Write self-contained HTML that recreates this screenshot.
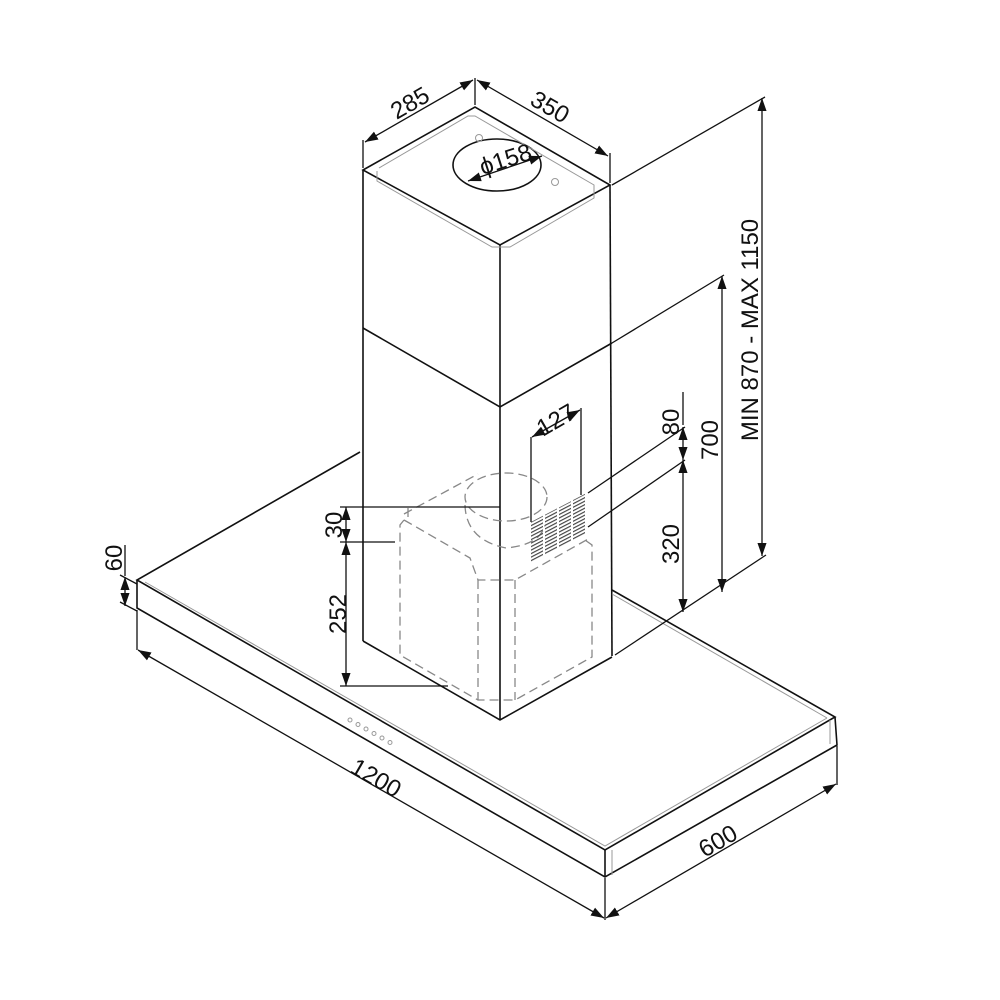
<!DOCTYPE html>
<html><head><meta charset="utf-8"><style>
html,body{margin:0;padding:0;background:#fff;}
svg{display:block;}
text{font-family:"Liberation Sans",sans-serif;fill:#111;}
</style></head><body>
<svg width="1000" height="1000" viewBox="0 0 1000 1000" xmlns="http://www.w3.org/2000/svg">
<defs>
<marker id="a" viewBox="0 0 10 10" refX="10" refY="5" markerWidth="13" markerHeight="13" markerUnits="userSpaceOnUse" orient="auto-start-reverse">
<path d="M0,1.5 L10,5 L0,8.5 z" fill="#111"/></marker>
<pattern id="h" width="4" height="3.5" patternUnits="userSpaceOnUse"><rect width="4" height="1.3" fill="#444"/></pattern>
</defs>
<g stroke="#111" stroke-width="1.6" fill="none">
<polyline points="360,452 137,580 605,850 835,717 612,590"/>
<polyline points="137,580 137,608 605,877 837,745 835,717"/>
<line x1="605" y1="850" x2="605" y2="877"/>
<polygon points="363,170 475,107 610,185 500,245"/>
<line x1="363" y1="170" x2="363" y2="641"/>
<line x1="500" y1="245" x2="500" y2="720"/>
<line x1="610" y1="185" x2="612" y2="656"/>
<polyline points="363,328 500,407 612,343"/>
<polyline points="363,641 500,720 612,657"/>
<ellipse cx="497" cy="165" rx="44" ry="26"/>
</g>
<g stroke="#999" stroke-width="1" fill="none">
<polyline points="145,582 605,846 827,718"/>
<line x1="612" y1="594" x2="827" y2="718"/>
<line x1="612" y1="850" x2="612" y2="875"/>
<line x1="830" y1="720" x2="830" y2="744"/>
<polyline points="377,171 377,181 492,247 510,247 594,198 594,185 475,116 468,116 379,168"/>
<circle cx="479" cy="138" r="3.5"/><circle cx="555" cy="182" r="3.5"/>
<circle cx="350" cy="720" r="2"/><circle cx="358" cy="724.5" r="2"/><circle cx="366" cy="729" r="2"/><circle cx="374" cy="733.5" r="2"/><circle cx="382" cy="738" r="2"/><circle cx="390" cy="742.5" r="2"/>
</g>
<g stroke="#888" stroke-width="1.3" fill="none" stroke-dasharray="9,5">
<polyline points="404,520 400,525 400,655 478,700 515,700 592,657 592,545 585,540"/>
<polyline points="404,520 470,558 478,580 515,580 590,538"/>
<line x1="478" y1="580" x2="478" y2="700"/>
<line x1="515" y1="580" x2="515" y2="700"/>
<line x1="404" y1="514" x2="478" y2="474"/>
<ellipse cx="506" cy="497" rx="41" ry="24"/>
<path d="M465,505 Q466,540 506,548 Q540,545 545,525"/>
<line x1="408" y1="508" x2="408" y2="522"/>
</g>
<!-- grill -->
<g transform="matrix(1,-0.52,0,1,0,276.12)">
<rect x="531" y="522" width="12" height="40" fill="url(#h)"/>
<rect x="545" y="522" width="12" height="40" fill="url(#h)"/>
<rect x="559" y="522" width="12" height="40" fill="url(#h)"/>
<rect x="573" y="522" width="12" height="40" fill="url(#h)"/>
</g>
<g stroke="#111" stroke-width="1.3" fill="none">
<line x1="363" y1="168" x2="363" y2="140"/>
<line x1="475" y1="105" x2="475" y2="78"/>
<line x1="610" y1="183" x2="610" y2="153"/>
<line x1="365" y1="142" x2="473" y2="80" marker-start="url(#a)" marker-end="url(#a)"/>
<line x1="477" y1="80" x2="608" y2="156" marker-start="url(#a)" marker-end="url(#a)"/>
<line x1="468" y1="181" x2="542" y2="156" marker-start="url(#a)" marker-end="url(#a)"/>
<line x1="531" y1="437" x2="531" y2="522"/>
<line x1="581" y1="408" x2="581" y2="495"/>
<line x1="532" y1="437" x2="580" y2="410" marker-start="url(#a)" marker-end="url(#a)"/>
<line x1="612" y1="185" x2="765" y2="97"/>
<line x1="612" y1="343" x2="724" y2="275"/>
<line x1="588" y1="493" x2="685" y2="427"/>
<line x1="588" y1="527" x2="685" y2="460"/>
<line x1="615" y1="655" x2="766" y2="555"/>
<line x1="683" y1="392" x2="683" y2="425"/>
<line x1="683" y1="427" x2="683" y2="460" marker-start="url(#a)" marker-end="url(#a)"/>
<line x1="683" y1="460" x2="683" y2="612" marker-start="url(#a)" marker-end="url(#a)"/>
<line x1="722" y1="276" x2="722" y2="592" marker-start="url(#a)" marker-end="url(#a)"/>
<line x1="762" y1="98" x2="762" y2="556" marker-start="url(#a)" marker-end="url(#a)"/>
<line x1="340" y1="507" x2="500" y2="507"/>
<line x1="340" y1="542" x2="395" y2="542"/>
<line x1="340" y1="686" x2="448" y2="686"/>
<line x1="346" y1="507" x2="346" y2="542" marker-start="url(#a)" marker-end="url(#a)"/>
<line x1="346" y1="542" x2="346" y2="686" marker-start="url(#a)" marker-end="url(#a)"/>
<line x1="125" y1="545" x2="125" y2="576"/>
<line x1="120" y1="575" x2="137" y2="584"/>
<line x1="120" y1="602" x2="137" y2="611"/>
<line x1="125" y1="577" x2="125" y2="606" marker-start="url(#a)" marker-end="url(#a)"/>
<line x1="137" y1="610" x2="137" y2="650"/>
<line x1="605" y1="878" x2="605" y2="920"/>
<line x1="837" y1="746" x2="837" y2="785"/>
<line x1="138" y1="650" x2="604" y2="918" marker-start="url(#a)" marker-end="url(#a)"/>
<line x1="606" y1="918" x2="836" y2="784" marker-start="url(#a)" marker-end="url(#a)"/>
</g>
<g font-size="24">
<text transform="translate(414,110) rotate(-30)" text-anchor="middle">285</text>
<text transform="translate(546,114) rotate(30)" text-anchor="middle">350</text>
<text transform="translate(508,167) rotate(-18)" text-anchor="middle">ϕ158</text>
<text transform="translate(560,427) rotate(-30)" text-anchor="middle">127</text>
<text transform="translate(679,422) rotate(-90)" text-anchor="middle">80</text>
<text transform="translate(718,440) rotate(-90)" text-anchor="middle">700</text>
<text transform="translate(679,544) rotate(-90)" text-anchor="middle">320</text>
<text transform="translate(758,330) rotate(-90)" text-anchor="middle">MIN 870 - MAX 1150</text>
<text transform="translate(342,525) rotate(-90)" text-anchor="middle">30</text>
<text transform="translate(346,614) rotate(-90)" text-anchor="middle">252</text>
<text transform="translate(122,558) rotate(-90)" text-anchor="middle">60</text>
<text transform="translate(372,785) rotate(30)" text-anchor="middle">1200</text>
<text transform="translate(722,848) rotate(-30)" text-anchor="middle">600</text>
</g>
</svg>
</body></html>
